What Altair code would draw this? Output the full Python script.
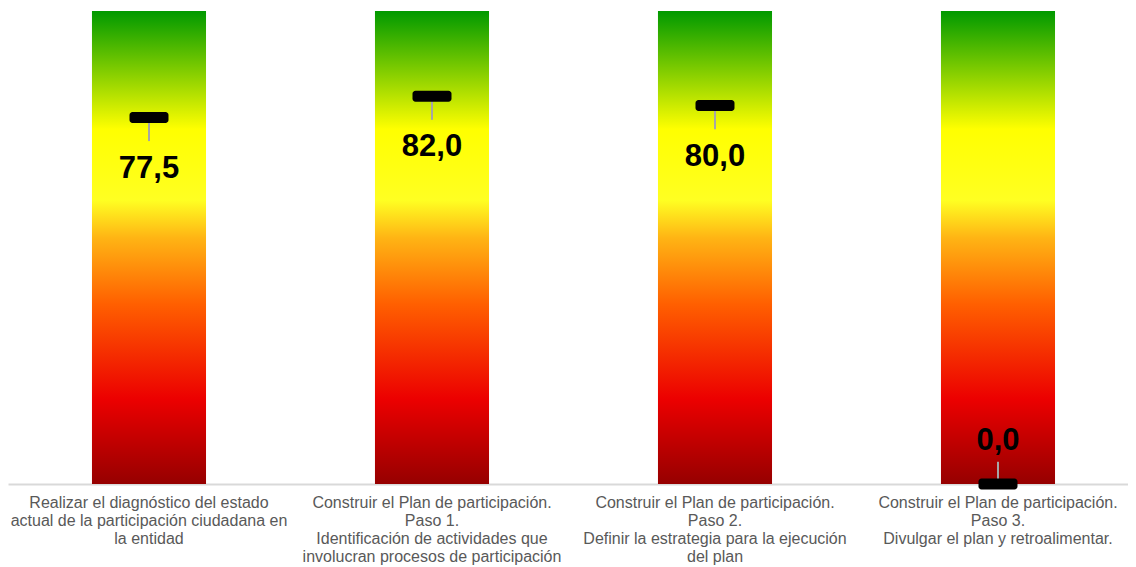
import altair as alt
import pandas as pd

categories = [
    "Realizar el diagnóstico del estado\nactual de la participación ciudadana en\nla entidad",
    "Construir el Plan de participación.\nPaso 1.\nIdentificación de actividades que\ninvolucran procesos de participación",
    "Construir el Plan de participación.\nPaso 2.\nDefinir la estrategia para la ejecución\ndel plan",
    "Construir el Plan de participación.\nPaso 3.\nDivulgar el plan y retroalimentar.",
]
values = [77.5, 82.0, 80.0, 0.0]
scale_max = [100, 100, 100, 100]

df = pd.DataFrame({"cat": categories, "value": values, "top": scale_max})

gradient = alt.LinearGradient(
    gradient="linear",
    x1=0, y1=0, x2=0, y2=1,
    stops=[
        alt.GradientStop(offset=0.0, color="#009900"),
        alt.GradientStop(offset=0.25, color="#ffff00"),
        alt.GradientStop(offset=0.40, color="#ffff22"),
        alt.GradientStop(offset=0.48, color="#ffb414"),
        alt.GradientStop(offset=0.62, color="#ff5f00"),
        alt.GradientStop(offset=0.82, color="#ec0000"),
        alt.GradientStop(offset=1.0, color="#960000"),
    ],
)

x = alt.X(
    "cat:N",
    sort=None,
    title=None,
    scale=alt.Scale(paddingInner=0.597, paddingOuter=0.2773, align=0.535),
    axis=alt.Axis(
        labelExpr="split(datum.label, '\\n')",
        labelAngle=0,
        labelFont="Liberation Sans",
        labelFontSize=16,
        labelColor="#595959",
        labelLineHeight=18,
        labelPadding=10,
        labelLimit=400,
        ticks=False,
        domainColor="#d9d9d9",
        domainWidth=2,
    ),
)
yscale = alt.Scale(domain=[0, 100])

base = alt.Chart(df)

bars = base.mark_bar(color=gradient).encode(
    x=x,
    y=alt.Y("top:Q", scale=yscale, axis=None),
)

rules = base.transform_calculate(
    line_end="datum.value > 50 ? datum.value - 5 : datum.value + 4.7"
).mark_rule(color="#a6a6a6", strokeWidth=2).encode(
    x=x,
    y=alt.Y("value:Q", scale=yscale, axis=None),
    y2="line_end:Q",
)

markers = base.mark_tick(
    color="black", opacity=1, thickness=11, size=39, cornerRadius=3
).encode(
    x=x,
    y=alt.Y("value:Q", scale=yscale, axis=None),
)

labels = base.transform_calculate(
    label_pos="datum.value > 50 ? datum.value - 10.8 : datum.value + 9.0",
    label_text="replace(format(datum.value, '.1f'), '.', ',')",
).mark_text(
    font="Liberation Sans", fontSize=31, fontWeight="bold", color="black", baseline="middle"
).encode(
    x=x,
    y=alt.Y("label_pos:Q", scale=yscale, axis=None),
    text="label_text:N",
)

chart = alt.layer(bars, rules, markers, labels).properties(
    width=1120,
    height=473,
    padding={"left": 0, "top": 3, "right": 0, "bottom": 84},
    autosize=alt.AutoSizeParams(type="none"),
).configure_view(stroke=None)

chart.save("out.html", embed_options={"renderer": "svg", "actions": False})
